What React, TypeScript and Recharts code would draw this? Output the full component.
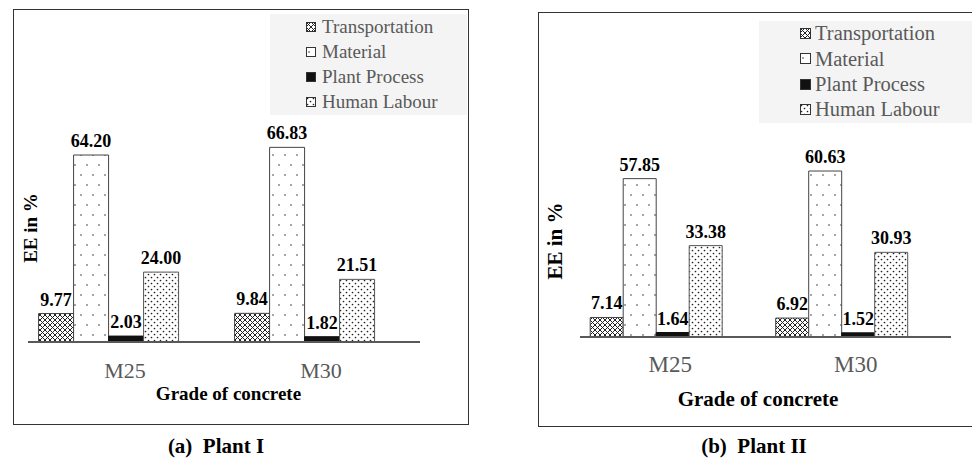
import { Bar, BarChart, LabelList, Legend, XAxis, YAxis } from "recharts";

const FONT = '"Liberation Serif", "Times New Roman", serif';

const grades = ["M25", "M30"];
const seriesNames = ["Transportation", "Material", "Plant Process", "Human Labour"];

const plant1Transportation = [9.77, 9.84];
const plant1Material = [64.2, 66.83];
const plant1PlantProcess = [2.03, 1.82];
const plant1HumanLabour = [24.0, 21.51];

const plant2Transportation = [7.14, 6.92];
const plant2Material = [57.85, 60.63];
const plant2PlantProcess = [1.64, 1.52];
const plant2HumanLabour = [33.38, 30.93];

const makeRows = (t: number[], m: number[], p: number[], h: number[]) =>
  grades.map((grade, i) => ({
    grade,
    transportation: t[i],
    material: m[i],
    plantProcess: p[i],
    humanLabour: h[i],
  }));

const plant1Data = makeRows(plant1Transportation, plant1Material, plant1PlantProcess, plant1HumanLabour);
const plant2Data = makeRows(plant2Transportation, plant2Material, plant2PlantProcess, plant2HumanLabour);

const patternDefs = (id: string) => (
  <defs>
    <pattern id={`${id}-cross`} width={5} height={5} patternUnits="userSpaceOnUse">
      <rect width={5} height={5} fill="#fff" />
      <path d="M0,0 L5,5 M5,0 L0,5" stroke="#222" strokeWidth={1} />
    </pattern>
    <pattern id={`${id}-sparse`} width={12} height={20} patternUnits="userSpaceOnUse">
      <rect width={12} height={20} fill="#fff" />
      <circle cx={3} cy={5} r={0.8} fill="#333" />
      <circle cx={9} cy={15} r={0.8} fill="#333" />
    </pattern>
    <pattern id={`${id}-dense`} width={6} height={6} patternUnits="userSpaceOnUse">
      <rect width={6} height={6} fill="#fff" />
      <circle cx={1.5} cy={1.5} r={0.85} fill="#222" />
      <circle cx={4.5} cy={4.5} r={0.85} fill="#222" />
    </pattern>
  </defs>
);

type Cfg = {
  id: string;
  data: typeof plant1Data;
  left: number;
  width: number;
  margin: { top: number; right: number; bottom: number; left: number };
  xAxisHeight: number;
  gap: string;
  tickSize: number;
  tickDx: number;
  tickMargin: number;
  titleSize: number;
  xLabelDx: number;
  xLabelDy: number;
  yLabelDx: number;
  yLabelDy: number;
  legend: { left: number; top: number; width: number; height: number; iconLeft: number; icon: number; gap: number; fontSize: number; rowH: number };
};

const PlantChart = ({ cfg }: { cfg: Cfg }) => {
  const lg = cfg.legend;
  const labelProps = {
    position: "top" as const,
    offset: 8,
    fill: "#000",
    fontSize: 18,
    fontWeight: "bold",
    fontFamily: FONT,
    formatter: (v: any) => Number(v).toFixed(2),
  };
  return (
    <div style={{ position: "absolute", left: cfg.left, top: 0 }}>
      <BarChart
        width={cfg.width}
        height={460}
        data={cfg.data}
        margin={cfg.margin}
        barCategoryGap={cfg.gap}
        barGap={0}
      >
        {patternDefs(cfg.id)}
        <XAxis
          dataKey="grade"
          height={cfg.xAxisHeight}
          axisLine={{ stroke: "#595959", strokeWidth: 2 }}
          tickLine={false}
          tickSize={0}
          tickMargin={cfg.tickMargin}
          tick={(p: any) => (
            <text
              x={p.x + cfg.tickDx}
              y={p.y}
              dy="0.71em"
              textAnchor="middle"
              fill="#595959"
              fontSize={cfg.tickSize}
              fontFamily={FONT}
            >
              {p.payload.value}
            </text>
          )}
          label={(p: any) => {
            const vb = p.viewBox;
            return (
              <text
                x={vb.x + vb.width / 2 + cfg.xLabelDx}
                y={vb.y + cfg.xLabelDy}
                textAnchor="middle"
                dominantBaseline="central"
                fontWeight="bold"
                fontSize={cfg.titleSize}
                fontFamily={FONT}
                fill="#000"
              >
                Grade of concrete
              </text>
            );
          }}
        />
        <YAxis
          width={20}
          domain={[0, 80]}
          tick={false}
          axisLine={false}
          tickLine={false}
          label={(p: any) => {
            const vb = p.viewBox;
            const x = vb.x + vb.width + cfg.yLabelDx;
            const y = vb.y + vb.height / 2 + cfg.yLabelDy;
            return (
              <text
                x={x}
                y={y}
                transform={`rotate(-90, ${x}, ${y})`}
                textAnchor="middle"
                dominantBaseline="central"
                fontWeight="bold"
                fontSize={cfg.titleSize}
                fontFamily={FONT}
                fill="#000"
              >
                EE in %
              </text>
            );
          }}
        />
        <Legend
          layout="horizontal"
          align="center"
          verticalAlign="middle"
          width={lg.width}
          height={lg.height}
          wrapperStyle={{ left: lg.left, top: lg.top, width: lg.width, height: lg.height }}
          content={(props: any) => {
            const items = (props.payload || [])
              .filter((e: any) => seriesNames.includes(e.value))
              .sort((a: any, b: any) => seriesNames.indexOf(a.value) - seriesNames.indexOf(b.value));
            return (
              <div
                style={{
                  width: lg.width,
                  height: lg.height,
                  background: "#f4f4f4",
                  fontFamily: FONT,
                }}
              >
                {items.map((entry: any) => (
                  <div
                    key={entry.value}
                    style={{ display: "flex", alignItems: "center", height: lg.rowH, paddingLeft: lg.iconLeft }}
                  >
                    <svg width={lg.icon} height={lg.icon} style={{ marginRight: lg.gap, flex: "none" }}>
                      <rect
                        x={0.5}
                        y={0.5}
                        width={lg.icon - 1}
                        height={lg.icon - 1}
                        fill={entry.color}
                        stroke="#333"
                      />
                    </svg>
                    <span style={{ fontSize: lg.fontSize, color: "#595959", lineHeight: 1 }}>{entry.value}</span>
                  </div>
                ))}
              </div>
            );
          }}
        />
        <Bar
          dataKey="transportation"
          name="Transportation"
          fill={`url(#${cfg.id}-cross)`}
          stroke="#444"
          strokeWidth={1}
          isAnimationActive={false}
        >
          <LabelList dataKey="transportation" {...labelProps} />
        </Bar>
        <Bar
          dataKey="material"
          name="Material"
          fill={`url(#${cfg.id}-sparse)`}
          stroke="#444"
          strokeWidth={1}
          isAnimationActive={false}
        >
          <LabelList dataKey="material" {...labelProps} />
        </Bar>
        <Bar
          dataKey="plantProcess"
          name="Plant Process"
          fill="#111"
          stroke="#111"
          strokeWidth={1}
          isAnimationActive={false}
        >
          <LabelList dataKey="plantProcess" {...labelProps} />
        </Bar>
        <Bar
          dataKey="humanLabour"
          name="Human Labour"
          fill={`url(#${cfg.id}-dense)`}
          stroke="#555"
          strokeWidth={1}
          isAnimationActive={false}
        >
          <LabelList dataKey="humanLabour" {...labelProps} />
        </Bar>
        {/* empty slot: the original groups sit left of the tick centre */}
        <Bar dataKey="spacer" fill="none" legendType="none" isAnimationActive={false} />
      </BarChart>
    </div>
  );
};

const plant1Cfg: Cfg = {
  id: "p1",
  data: plant1Data,
  left: 0,
  width: 480,
  margin: { top: 109, right: 60, bottom: 16, left: 8 },
  xAxisHeight: 102,
  gap: "5.4%",
  tickSize: 22,
  tickDx: -1,
  tickMargin: 20,
  titleSize: 19,
  xLabelDx: 4.5,
  xLabelDy: 51,
  yLabelDx: 2,
  yLabelDy: 2.5,
  legend: { left: 270, top: 14, width: 197, height: 101, iconLeft: 36, icon: 10, gap: 6, fontSize: 19, rowH: 25 },
};

const plant2Cfg: Cfg = {
  id: "p2",
  data: plant2Data,
  left: 490,
  width: 482,
  margin: { top: 118, right: 21, bottom: 13, left: 70 },
  xAxisHeight: 110,
  gap: "5.5%",
  tickSize: 23,
  tickDx: -2.5,
  tickMargin: 19,
  titleSize: 21,
  xLabelDx: -7.5,
  xLabelDy: 62,
  yLabelDx: -25,
  yLabelDy: 13.5,
  legend: { left: 269, top: 21, width: 213, height: 102, iconLeft: 41, icon: 11, gap: 4, fontSize: 20.5, rowH: 25.3 },
};

export default function App() {
  return (
    <div
      style={{
        position: "absolute",
        left: 0,
        top: 0,
        width: 972,
        height: 460,
        background: "#fff",
        overflow: "hidden",
        fontFamily: FONT,
      }}
    >
      <div
        style={{
          position: "absolute",
          left: 13,
          top: 9,
          width: 456,
          height: 416,
          border: "1.5px solid #333",
          boxSizing: "border-box",
        }}
      />
      <div
        style={{
          position: "absolute",
          left: 538,
          top: 12,
          width: 460,
          height: 415,
          border: "1.5px solid #333",
          boxSizing: "border-box",
        }}
      />
      <PlantChart cfg={plant1Cfg} />
      <PlantChart cfg={plant2Cfg} />
      <div
        style={{
          position: "absolute",
          left: 116,
          width: 200,
          top: 434,
          textAlign: "center",
          fontWeight: "bold",
          fontSize: 21,
          whiteSpace: "pre",
        }}
      >
        {"(a)  Plant I"}
      </div>
      <div
        style={{
          position: "absolute",
          left: 654,
          width: 200,
          top: 434,
          textAlign: "center",
          fontWeight: "bold",
          fontSize: 21,
          whiteSpace: "pre",
        }}
      >
        {"(b)  Plant II"}
      </div>
    </div>
  );
}
